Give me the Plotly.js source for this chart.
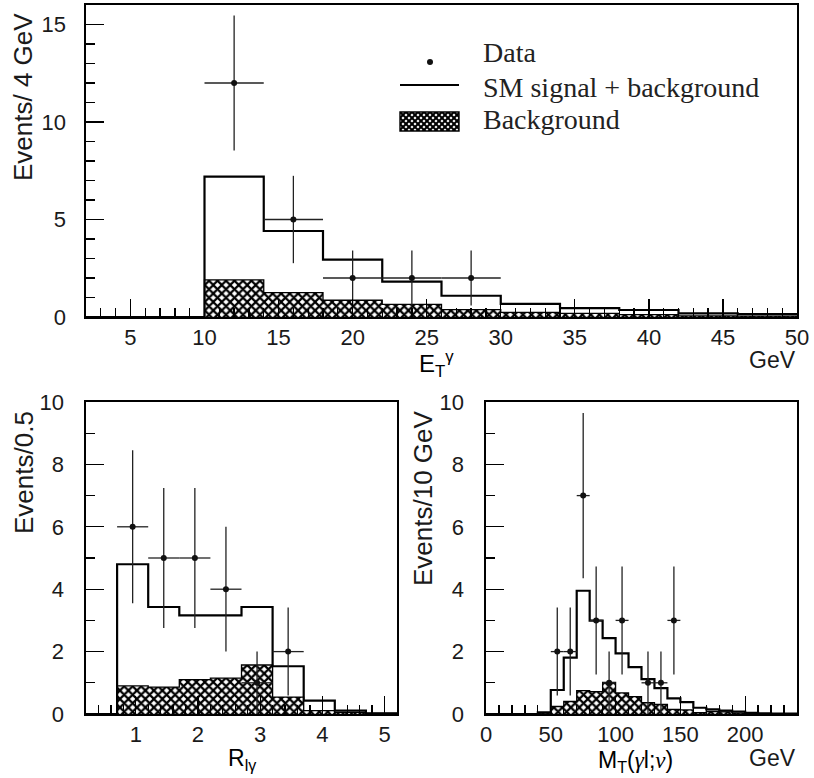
<!DOCTYPE html>
<html>
<head>
<meta charset="utf-8">
<script src="https://cdn.plot.ly/plotly-3.0.1.min.js"></script>
<style>html,body{margin:0;padding:0;background:#fff;}#chart{width:814px;height:778px;}</style>
</head>
<body>
<div id="chart"></div>
<script>
// ---------- Top panel: photon E_T (4 GeV bins from 2 to 50) ----------
const etBinCenters = [4, 8, 12, 16, 20, 24, 28, 32, 36, 40, 44, 48];
const etBinWidth = 4;
const etSM  = [0, 0, 7.2, 4.41, 2.94, 1.81, 1.09, 0.67, 0.46, 0.36, 0.19, 0.15];
const etBkg = [0, 0, 1.9, 1.25, 0.86, 0.65, 0.38, 0.24, 0.19, 0.12, 0.06, 0.04];
const etDataX = [12, 16, 20, 24, 28];
const etDataY = [12, 5, 2, 2, 2];
const etDataErr = [3.46, 2.24, 1.41, 1.41, 1.41];

// ---------- Bottom left: R_lgamma (0.5 bins from 0.2 to 5.2) ----------
const rBinCenters = [0.45, 0.95, 1.45, 1.95, 2.45, 2.95, 3.45, 3.95, 4.45, 4.95];
const rBinWidth = 0.5;
const rSM  = [0, 4.8, 3.43, 3.16, 3.16, 3.43, 1.53, 0.43, 0.11, 0.02];
const rBkg = [0, 0.9, 0.86, 1.1, 1.15, 1.57, 0.54, 0.11, 0.05, 0.02];
const rDataX = [0.95, 1.45, 1.95, 2.45, 2.95, 3.45];
const rDataY = [6, 5, 5, 4, 1, 2];
const rDataErr = [2.45, 2.24, 2.24, 2.0, 1.0, 1.41];

// ---------- Bottom right: M_T(gamma l; nu) (10 GeV bins from 0 to 240) ----------
const mBinCenters = [5, 15, 25, 35, 45, 55, 65, 75, 85, 95, 105, 115, 125, 135, 145, 155, 165, 175, 185, 195, 205, 215, 225, 235];
const mBinWidth = 10;
const mSM  = [0, 0, 0, 0, 0.05, 0.77, 1.81, 3.95, 2.99, 2.43, 1.94, 1.5, 1.12, 0.83, 0.5, 0.38, 0.2, 0.15, 0.11, 0.075, 0.04, 0.02, 0.01, 0.01];
const mBkg = [0, 0, 0, 0, 0.03, 0.24, 0.4, 0.75, 0.72, 1.01, 0.68, 0.56, 0.36, 0.31, 0.15, 0.13, 0.04, 0.08, 0.07, 0.03, 0.02, 0.01, 0.01, 0.01];
const mDataX = [55, 65, 75, 85, 95, 105, 125, 135, 145];
const mDataY = [2, 2, 7, 3, 1, 3, 1, 1, 3];
const mDataErr = [1.41, 1.41, 2.65, 1.73, 1.0, 1.73, 1.0, 1.0, 1.73];

// ---------- Legend / labels ----------
const legendLabels = ['Data', 'SM signal + background', 'Background'];

const W = 814, H = 778;
const px = v => v / W;
const py = v => 1 - v / H;
const SANS = 'Liberation Sans, Arial, sans-serif';
const SERIF = 'Liberation Serif, Times New Roman, serif';

function stepXY(centers, width, vals) {
  const xs = centers.map(c => c - width / 2);
  xs.push(centers[centers.length - 1] + width / 2);
  const ys = vals.slice();
  ys.push(vals[vals.length - 1]);
  return {x: xs, y: ys};
}

function panelTraces(xa, ya, centers, width, sm, bkg, dx, dy, derr) {
  const bs = stepXY(centers, width, bkg);
  const ss = stepXY(centers, width, sm);
  return [
    {type: 'bar', x: centers, y: bkg, width: centers.map(() => width), xaxis: xa, yaxis: ya,
     marker: {color: '#fff', line: {width: 0},
              pattern: {shape: 'x', size: 6, solidity: 0.6, fgcolor: '#000', bgcolor: '#fff'}},
     showlegend: false, hoverinfo: 'skip'},
    {type: 'scatter', mode: 'lines', x: bs.x, y: bs.y, xaxis: xa, yaxis: ya,
     line: {shape: 'hv', color: '#000', width: 1.3}, showlegend: false, hoverinfo: 'skip'},
    {type: 'scatter', mode: 'lines', x: ss.x, y: ss.y, xaxis: xa, yaxis: ya,
     line: {shape: 'hv', color: '#000', width: 2.2}, showlegend: false, hoverinfo: 'skip'},
    {type: 'scatter', mode: 'markers', x: dx, y: dy, xaxis: xa, yaxis: ya,
     marker: {color: '#111', size: 6},
     error_y: {type: 'data', array: derr, color: '#222', thickness: 1.3, width: 0},
     error_x: {type: 'constant', value: width / 2, color: '#222', thickness: 1.3, width: 0},
     showlegend: false}
  ];
}

const data = [
  ...panelTraces('x', 'y', etBinCenters, etBinWidth, etSM, etBkg, etDataX, etDataY, etDataErr),
  ...panelTraces('x2', 'y2', rBinCenters, rBinWidth, rSM, rBkg, rDataX, rDataY, rDataErr),
  ...panelTraces('x3', 'y3', mBinCenters, mBinWidth, mSM, mBkg, mDataX, mDataY, mDataErr)
];

function ax(extra) {
  return Object.assign({
    showline: true, linecolor: '#000', linewidth: 1.6, mirror: true,
    ticks: 'inside', ticklen: 18, tickwidth: 1.3, tickcolor: '#000',
    showgrid: false, zeroline: false, fixedrange: true,
    tickfont: {family: SANS, size: 22, color: '#1a1a1a'}
  }, extra);
}
function minor(d) { return {ticks: 'inside', ticklen: 9, tickwidth: 1.3, tickcolor: '#000', dtick: d, showgrid: false}; }

const xTopDom = [px(86), px(797)];
const yTopDom = [py(317), py(5)];
const xBLDom = [px(86), px(397)];
const xBRDom = [px(486), px(797)];
const yBotDom = [py(714), py(402)];

const layout = {
  width: W, height: H,
  margin: {l: 0, r: 0, t: 0, b: 0, pad: 0},
  paper_bgcolor: '#fff', plot_bgcolor: '#fff',
  showlegend: false, bargap: 0,
  xaxis: ax({domain: xTopDom, anchor: 'y', range: [2, 50], tick0: 0, dtick: 5, minor: minor(1), ticklabelstandoff: 0}),
  yaxis: ax({domain: yTopDom, anchor: 'x', range: [0, 16], tick0: 0, dtick: 5, minor: minor(1), ticklabelstandoff: 14}),
  xaxis2: ax({domain: xBLDom, anchor: 'y2', range: [0.2, 5.2], tick0: 0, dtick: 1, minor: minor(0.2), ticklabelstandoff: 0}),
  yaxis2: ax({domain: yBotDom, anchor: 'x2', range: [0, 10], tick0: 0, dtick: 2, minor: minor(1), ticklabelstandoff: 16}),
  xaxis3: ax({domain: xBRDom, anchor: 'y3', range: [0, 240], tick0: 0, dtick: 50, minor: minor(10), ticklabelstandoff: 0}),
  yaxis3: ax({domain: yBotDom, anchor: 'x3', range: [0, 10], tick0: 0, dtick: 2, minor: minor(1), ticklabelstandoff: 16}),
  annotations: [
    {text: 'Events/ 4 GeV', xref: 'paper', yref: 'paper', x: px(23), y: py(97), textangle: -90, showarrow: false, xanchor: 'center', yanchor: 'middle', font: {family: SANS, size: 26, color: '#1a1a1a'}},
    {text: 'Events/0.5', xref: 'paper', yref: 'paper', x: px(24), y: py(473), textangle: -90, showarrow: false, xanchor: 'center', yanchor: 'middle', font: {family: SANS, size: 26, color: '#1a1a1a'}},
    {text: 'Events/10 GeV', xref: 'paper', yref: 'paper', x: px(423), y: py(498), textangle: -90, showarrow: false, xanchor: 'center', yanchor: 'middle', font: {family: SANS, size: 26, color: '#1a1a1a'}},
    {text: 'E<sub>T</sub><sup>γ</sup>', xref: 'paper', yref: 'paper', x: px(436), y: py(364), showarrow: false, xanchor: 'center', yanchor: 'middle', font: {family: SANS, size: 24, color: '#000'}},
    {text: 'GeV', xref: 'paper', yref: 'paper', x: px(772), y: py(360), showarrow: false, xanchor: 'center', yanchor: 'middle', font: {family: SANS, size: 23, color: '#1a1a1a'}},
    {text: 'R<sub>lγ</sub>', xref: 'paper', yref: 'paper', x: px(242), y: py(759), showarrow: false, xanchor: 'center', yanchor: 'middle', font: {family: SANS, size: 23, color: '#000'}},
    {text: 'M<sub>T</sub>(<span style="font-family:Liberation Serif"><i>γ</i></span>l;<span style="font-family:Liberation Serif"><i>ν</i></span>)', xref: 'paper', yref: 'paper', x: px(635), y: py(761), showarrow: false, xanchor: 'center', yanchor: 'middle', font: {family: SANS, size: 23, color: '#000'}},
    {text: 'GeV', xref: 'paper', yref: 'paper', x: px(772), y: py(758), showarrow: false, xanchor: 'center', yanchor: 'middle', font: {family: SANS, size: 23, color: '#1a1a1a'}},
    {text: legendLabels[0], xref: 'paper', yref: 'paper', x: px(481), y: py(53), showarrow: false, xanchor: 'left', yanchor: 'middle', font: {family: SERIF, size: 28, color: '#222'}},
    {text: legendLabels[1], xref: 'paper', yref: 'paper', x: px(481), y: py(87), showarrow: false, xanchor: 'left', yanchor: 'middle', font: {family: SERIF, size: 28, color: '#222'}},
    {text: legendLabels[2], xref: 'paper', yref: 'paper', x: px(481), y: py(120), showarrow: false, xanchor: 'left', yanchor: 'middle', font: {family: SERIF, size: 28, color: '#222'}}
  ],
  shapes: [
    {type: 'circle', xref: 'paper', yref: 'paper', x0: px(427), x1: px(433), y0: py(59), y1: py(65), fillcolor: '#111', line: {width: 0}},
    {type: 'line', xref: 'paper', yref: 'paper', x0: px(400), x1: px(459), y0: py(85), y1: py(85), line: {color: '#000', width: 1.8}},
    {type: 'rect', xref: 'paper', yref: 'paper', x0: px(400), x1: px(459), y0: py(131), y1: py(112), line: {color: '#000', width: 1.4}, layer: 'above'}
  ],
  images: []
};

const hatchSvg = '<svg xmlns="http://www.w3.org/2000/svg" width="59" height="19" viewBox="0 0 59 19">' +
  '<defs><pattern id="h" width="6" height="6" patternUnits="userSpaceOnUse">' +
  '<path d="M-1,-1L7,7M7,-1L-1,7" stroke="black" stroke-width="2"/></pattern></defs>' +
  '<rect width="59" height="19" fill="white"/><rect width="59" height="19" fill="url(#h)"/></svg>';
layout.images.push({
  source: 'data:image/svg+xml;base64,' + btoa(hatchSvg),
  xref: 'paper', yref: 'paper', x: px(400), y: py(112), sizex: px(59), sizey: 19 / H,
  xanchor: 'left', yanchor: 'top', sizing: 'stretch', layer: 'above'
});

Plotly.newPlot('chart', data, layout, {displayModeBar: false, staticPlot: true});
</script>
</body>
</html>
